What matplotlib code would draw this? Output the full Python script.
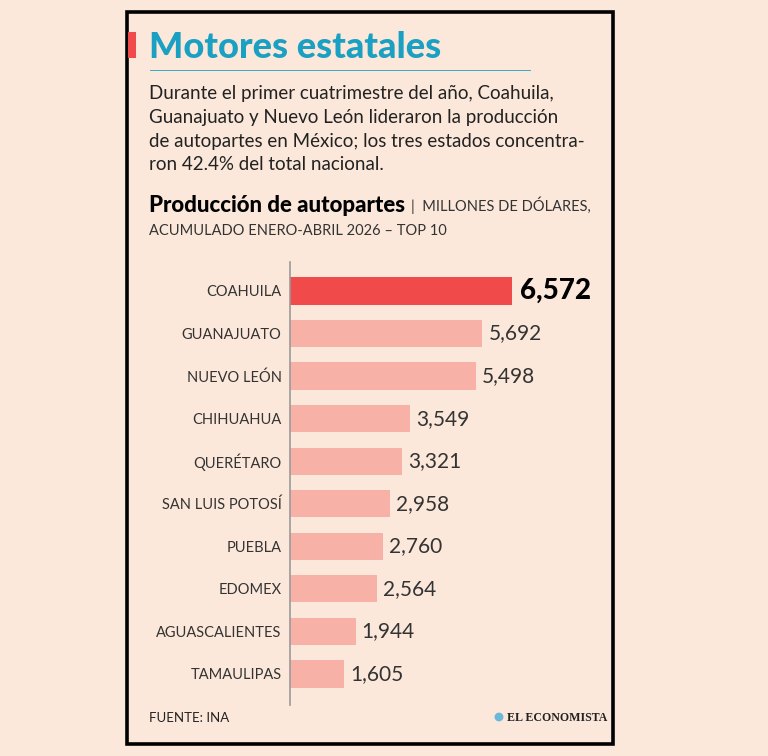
import matplotlib
matplotlib.use("Agg")
import matplotlib.pyplot as plt
from matplotlib.patches import Rectangle, Circle
from matplotlib.lines import Line2D

estados = ["COAHUILA", "GUANAJUATO", "NUEVO LEÓN", "CHIHUAHUA", "QUERÉTARO",
           "SAN LUIS POTOSÍ", "PUEBLA", "EDOMEX", "AGUASCALIENTES", "TAMAULIPAS"]
valores = [6572, 5692, 5498, 3549, 3321, 2958, 2760, 2564, 1944, 1605]

bg = "#fbe8da"
rojo = "#f04a4a"
rosa = "#f7b1a6"
azul = "#1aa0c2"

plt.rcParams['font.family'] = ['Lato', 'DejaVu Sans']

fig = plt.figure(figsize=(7.68, 7.56), dpi=100)
fig.patch.set_facecolor(bg)

W, H = 768, 756
def fx(x):
    return x / W
def fy(y):
    return 1 - y / H

# marco
fig.add_artist(Rectangle((fx(127), fy(744)), fx(613) - fx(127), fy(12) - fy(744),
                         transform=fig.transFigure, facecolor="none", edgecolor="black",
                         lw=2.6, zorder=5))
fig.add_artist(Rectangle((fx(128), fy(58)), fx(8), fy(32) - fy(58),
                         transform=fig.transFigure, facecolor=rojo, edgecolor="none",
                         zorder=6))

fig.text(fx(149), fy(48), "Motores estatales", color=azul, fontsize=26,
         fontweight="black", va="center", ha="left")
fig.add_artist(Line2D([fx(150), fx(530)], [fy(70), fy(70)], color=azul, lw=0.6,
                      transform=fig.transFigure))

cuerpo = ["Durante el primer cuatrimestre del año, Coahuila,",
          "Guanajuato y Nuevo León lideraron la producción",
          "de autopartes en México; los tres estados concentra-",
          "ron 42.4% del total nacional."]
for i, linea in enumerate(cuerpo):
    fig.text(fx(149), fy(93 + i * 24), linea, fontsize=13.5,
             color="#222222", va="center", ha="left")

t = fig.text(fx(149), fy(205), "Producción de autopartes", fontsize=16,
             fontweight="black", color="black", va="center", ha="left")
fig.canvas.draw()
bb = t.get_window_extent()
fig.text(bb.x1 / W + fx(6), fy(205), "|  MILLONES DE DÓLARES,", fontsize=10.5,
         color="#333333", va="center", ha="left")
fig.text(fx(149), fy(231), "ACUMULADO ENERO-ABRIL 2026 – TOP 10", fontsize=10.5,
         color="#333333", va="center", ha="left")

# grafica
ax = fig.add_axes([fx(290), fy(705), fx(613) - fx(290), fy(262) - fy(705)])
ax.set_facecolor("none")
colores = [rojo] + [rosa] * (len(valores) - 1)
ax.barh(range(len(estados)), valores, height=0.64, color=colores)
ax.set_xlim(0, 9562)
ax.set_ylim(9.73, -0.68)
ax.set_yticks(range(len(estados)))
ax.set_yticklabels(estados, fontsize=10.5, color="#333333")
ax.tick_params(axis="y", length=0, pad=6)
ax.set_xticks([])
for s in ["top", "right", "bottom"]:
    ax.spines[s].set_visible(False)
ax.spines["left"].set_color("#999999")
ax.spines["left"].set_linewidth(1.2)

for i, v in enumerate(valores):
    if i == 0:
        ax.text(v + 230, i, f"{v:,}", fontsize=20, fontweight="black",
                color="black", va="center", ha="left")
    else:
        ax.text(v + 180, i, f"{v:,}", fontsize=15,
                color="#333333", va="center", ha="left")

fig.text(fx(149), fy(718), "FUENTE: INA", fontsize=9.5,
         color="#222222", va="center", ha="left")
fig.add_artist(Circle((fx(499), fy(717)), 0.0058, transform=fig.transFigure,
                      facecolor="#6bb8d8", edgecolor="none"))
fig.text(fx(607), fy(718), "EL ECONOMISTA", fontsize=8.6, fontweight="bold",
         family=["Liberation Serif", "DejaVu Serif"], color="#222222",
         va="center", ha="right")

fig.savefig("out.png", dpi=100, facecolor=bg)
